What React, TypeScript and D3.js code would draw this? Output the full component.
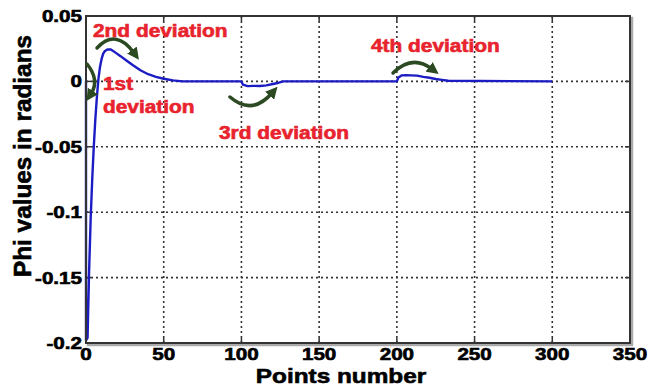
import * as d3 from 'd3';

// curve samples
const pointsNumber = [0, 0, 1, 2, 3, 4, 5, 6, 7, 8, 9, 10, 11, 12, 14, 16, 19, 22, 26, 30, 35, 40, 45, 50, 56, 62,
  100, 101, 104, 108, 112, 116, 121, 124, 127,
  200, 201, 203, 206, 209, 213, 217, 221, 225, 229, 233, 300];
const phiValues = [0, -0.198, -0.196, -0.145, -0.105, -0.075, -0.05, -0.029, -0.012, 0.002, 0.011, 0.017, 0.021, 0.023, 0.0245, 0.0244,
  0.022, 0.0195, 0.016, 0.0125, 0.0085, 0.0055, 0.0035, 0.002, 0.0008, 0,
  0, -0.0025, -0.0036, -0.0034, -0.0035, -0.003, -0.0018, -0.001, 0,
  0, 0.003, 0.0046, 0.0048, 0.0046, 0.0044, 0.0035, 0.0028, 0.0018, 0.0012, 0.0005, 0, 0];

const xTicks = [0, 50, 100, 150, 200, 250, 300, 350];
const yTicks = [0.05, 0, -0.05, -0.1, -0.15, -0.2];
const yTickLabels = ['0.05', '0', '-0.05', '-0.1', '-0.15', '-0.2'];

const labels = [
  { text: '2nd deviation', x: 93, y: 37 },
  { text: '1st', x: 103, y: 90 },
  { text: 'deviation', x: 103, y: 113 },
  { text: '3rd deviation', x: 219, y: 139 },
  { text: '4th deviation', x: 371, y: 52 },
];
const arrows = [
  'M87,64 Q100,80 91,94',
  'M97,48 Q116,28 134,53',
  'M230,97 Q252,116 272,93',
  'M393,73 Q412,54 432,69',
];

const FONT = '"Liberation Sans", Arial, sans-serif';
const RED = '#e8232d';
const GREEN = '#2c4a22';

function SText({ x, y, size, sx, anchor = 'start', fill = '#000', children }: any) {
  return (
    <text transform={`translate(${x},${y}) scale(${sx},1)`} fontSize={size} fontWeight="bold"
      fontFamily={FONT} textAnchor={anchor} fill={fill} stroke={fill} strokeWidth={0.6}>{children}</text>
  );
}

export default function App() {
  const width = 653, height = 390;
  const x = d3.scaleLinear().domain([0, 350]).range([86, 630]);
  const y = d3.scaleLinear().domain([-0.2, 0.05]).range([343, 16]);
  const [x0, x1] = x.range();
  const [yb, yt] = y.range();

  const data = pointsNumber.map((p, i) => [p, phiValues[i]] as [number, number]);
  const line = d3.line<[number, number]>().x(d => x(d[0])).y(d => y(d[1]));

  return (
    <svg width={width} height={height} style={{ position: 'absolute', left: 0, top: 0, background: '#fff' }}>
      <defs>
        <marker id="head" viewBox="0 0 10 10" refX="3" refY="5" markerWidth="12" markerHeight="12"
          markerUnits="userSpaceOnUse" orient="auto">
          <path d="M0,0 L10,5 L0,10 z" fill={GREEN} />
        </marker>
      </defs>

      {/* frame shadow */}
      <rect x={x0 + 2} y={yt + 2} width={x1 - x0} height={yb - yt} fill="none" stroke="#aaa" strokeWidth={2.5} />
      <rect x={x0} y={yt} width={x1 - x0} height={yb - yt} fill="#fff" />

      {/* grid */}
      {xTicks.filter(t => t > 0 && t < 350).map(t => (
        <line key={'gx' + t} x1={x(t)} x2={x(t)} y1={yt} y2={yb} stroke="#333" strokeWidth={1.6} strokeDasharray="2,3" />
      ))}
      {yTicks.filter(t => t > -0.2 && t < 0.05).map(t => (
        <line key={'gy' + t} x1={x0} x2={x1} y1={y(t)} y2={y(t)} stroke="#333" strokeWidth={1.6} strokeDasharray="2,3" />
      ))}

      {/* inward ticks */}
      {xTicks.map(t => (
        <g key={'tx' + t}>
          <line x1={x(t)} x2={x(t)} y1={yb} y2={yb - 5} stroke="#333" strokeWidth={1.5} />
          <line x1={x(t)} x2={x(t)} y1={yt} y2={yt + 5} stroke="#333" strokeWidth={1.5} />
        </g>
      ))}
      {yTicks.map(t => (
        <g key={'ty' + t}>
          <line x1={x0} x2={x0 + 5} y1={y(t)} y2={y(t)} stroke="#333" strokeWidth={1.5} />
          <line x1={x1} x2={x1 - 5} y1={y(t)} y2={y(t)} stroke="#333" strokeWidth={1.5} />
        </g>
      ))}

      {/* signal */}
      <path d={line(data) ?? ''} fill="none" stroke="#1c1cc4" strokeWidth={2.4} strokeLinejoin="round" />

      <rect x={x0} y={yt} width={x1 - x0} height={yb - yt} fill="none" stroke="#333" strokeWidth={2} />

      {/* tick labels */}
      {xTicks.map(t => (
        <SText key={'lx' + t} x={x(t)} y={360} size={16.5} sx={1.25} anchor="middle">{t}</SText>
      ))}
      {yTicks.map((t, i) => (
        <SText key={'ly' + t} x={82} y={y(t) + 6} size={16.5} sx={1.25} anchor="end">{yTickLabels[i]}</SText>
      ))}

      {/* axis titles */}
      <SText x={341} y={383} size={21} sx={1.16} anchor="middle">Points number</SText>
      <text transform="translate(31,156) rotate(-90)" fontSize={23} fontWeight="bold" fontFamily={FONT}
        stroke="#000" strokeWidth={0.6}
        textAnchor="middle" textLength={242} lengthAdjust="spacingAndGlyphs">Phi values in radians</text>

      {/* annotations */}
      {arrows.map((d, i) => (
        <path key={'a' + i} d={d} fill="none" stroke={GREEN} strokeWidth={3.5} strokeLinecap="round" markerEnd="url(#head)" />
      ))}
      {labels.map((l, i) => (
        <SText key={'t' + i} x={l.x} y={l.y} size={18} sx={1.16} fill={RED}>{l.text}</SText>
      ))}
    </svg>
  );
}
